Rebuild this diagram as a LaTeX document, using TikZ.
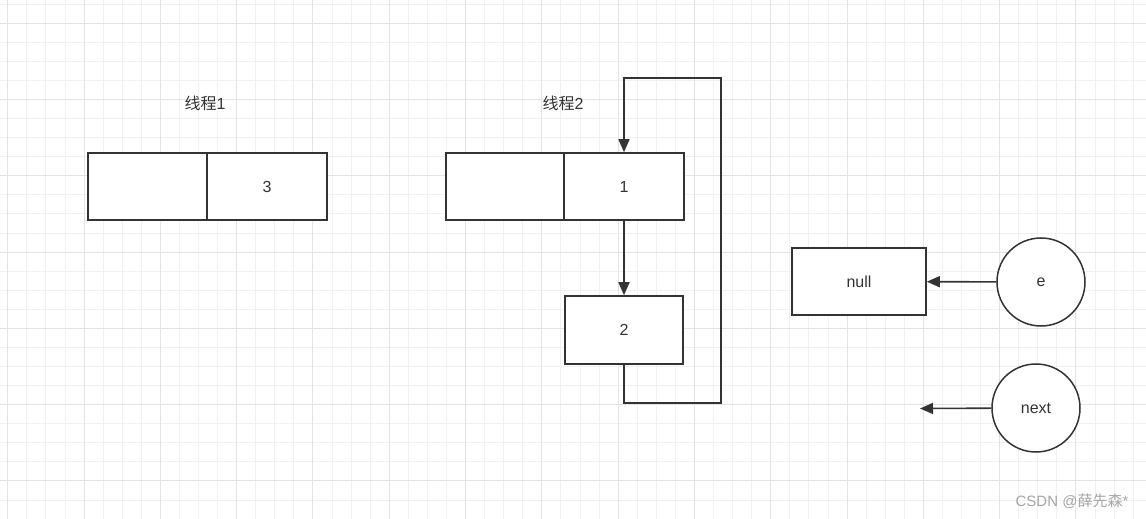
\documentclass[tikz,border=0pt]{standalone}
\usepackage{fontspec}
\setmainfont{Liberation Sans}
\newfontfamily\cjk{Noto Sans CJK SC}
\usepackage{xcolor}
\usetikzlibrary{arrows.meta}

\definecolor{gridminor}{HTML}{F1F1F1}
\definecolor{gridmajor}{HTML}{E3E3E3}
\definecolor{ink}{HTML}{333333}
\definecolor{mark}{HTML}{A6A6A6}

\begin{document}
\begin{tikzpicture}[x=1bp, y=-1bp,
    box/.style={draw=ink, line width=1.6bp, fill=white, minimum width=#1, minimum height=67bp, inner sep=0bp},
    box/.default=119bp,
    ball/.style={draw=ink, line width=1.5bp, fill=white, circle, minimum size=88bp, inner sep=0bp},
    arr/.style={draw=ink, line width=1.6bp, -{Triangle[length=13bp, width=11bp]}},
    font=\fontsize{16bp}{19bp}\selectfont, text=ink]
      \def\gx{7.3}
      \def\gy{22.7}
      \def\gstep{19.075}

      \useasboundingbox[fill=white] (0,0) rectangle (1146,519);
      % grid
      \foreach \k in {0,...,59} {
        \pgfmathsetmacro\xx{round(\gx + \k*\gstep) + 0.5}
        \draw[gridminor, line width=1bp] (\xx,0) -- (\xx,519);
      }
      \foreach \k in {-1,...,25} {
        \pgfmathsetmacro\yy{round(\gy + \k*\gstep) + 0.5}
        \draw[gridminor, line width=1bp] (0,\yy) -- (1146,\yy);
      }
      \foreach \k in {0,...,14} {
        \pgfmathsetmacro\xx{round(\gx + \k*4*\gstep) + 0.5}
        \draw[gridmajor, line width=1.5bp] (\xx,0) -- (\xx,519);
      }
      \foreach \k in {0,...,6} {
        \pgfmathsetmacro\yy{round(\gy + \k*4*\gstep) + 0.5}
        \draw[gridmajor, line width=1.5bp] (0,\yy) -- (1146,\yy);
      }

      % thread 1
      \node (t1title) at (205,103) {{\cjk 线程}1};
      \node[box] (t1key) at (147.5,186.5) {};
      \node[box=120bp] (t1val) at (267,186.5) {3};

      % thread 2
      \node (t2title) at (563,103) {{\cjk 线程}2};
      \node[box=118bp] (t2key) at (505,186.5) {};
      \node[box=120bp] (t2val) at (624,186.5) {1};
      \node[box=118bp, minimum height=68bp] (n2) at (624,330) {2};
      \coordinate (lpbot) at (721,403);
      \coordinate (lptop) at (721,78);
      \draw[arr] (t2val.south) -- (n2.north);
      \draw[arr] (n2.south) |- (lpbot) -- (lptop) -| (t2val.north);

      % e and next
      \node[box=134bp] (null) at (859,281.5) {null};
      \node[ball] (e) at (1041,282) {e};
      \node[ball] (next) at (1036,408) {next};
      \coordinate (nextend) at (920,408.5);
      \draw[arr] (e) -- (null);
      \draw[arr] (next) -- (nextend);

      \node[text=mark, font=\fontsize{15bp}{18bp}\selectfont] (wm) at (1072,501) {CSDN @{\cjk 薛先森}*};
\end{tikzpicture}
\end{document}
